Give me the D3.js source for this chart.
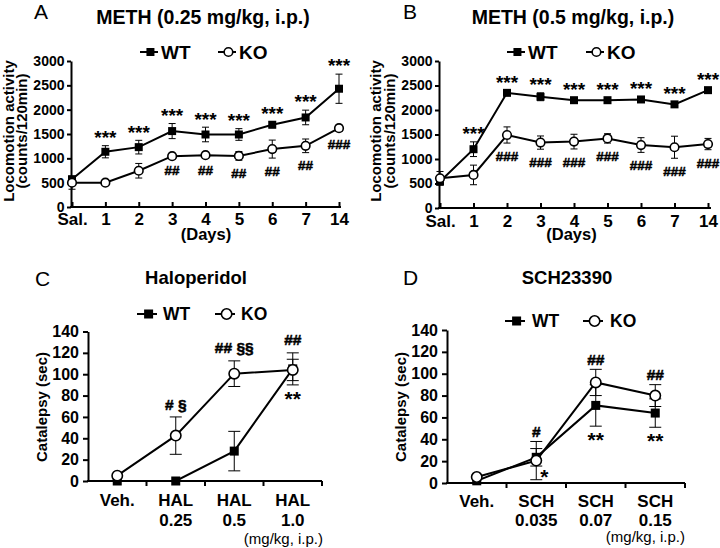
<!DOCTYPE html>
<html><head><meta charset="utf-8">
<script src="https://cdn.jsdelivr.net/npm/d3@7"></script>
<style>
body{margin:0;background:#fff;}
svg{display:block;}
</style></head><body>
<svg id="chart" width="720" height="548"></svg>
<script>
// ---------------- DATA ----------------
const dayLabels = ["Sal.","1","2","3","4","5","6","7","14"];
const locoTicks = [0,500,1000,1500,2000,2500,3000];

const meth025WT    = [570,1135,1230,1560,1490,1490,1690,1840,2430];
const meth025WTErr = [40,125,140,155,150,120,60,150,300];
const meth025KO    = [500,500,745,1045,1065,1050,1190,1257,1620];
const meth025KOErr = [135,20,150,30,40,90,185,140,60];
const meth025Above = ["","***","***","***","***","***","***","***","***"];
const meth025Below = ["","","","##","##","##","##","##","###"];

const meth05WT    = [540,1200,2350,2270,2200,2200,2215,2115,2405];
const meth05WTErr = [60,150,40,80,50,50,50,50,50];
const meth05KO    = [605,675,1490,1335,1355,1420,1285,1240,1305];
const meth05KOErr = [140,200,165,135,150,95,150,225,115];
const meth05Above = ["","***","***","***","***","***","***","***","***"];
const meth05Below = ["","","###","###","###","###","###","###","###"];

const cataTicks = [0,20,40,60,80,100,120,140];

const halLabels = ["Veh.","HAL\n0.25","HAL\n0.5","HAL\n1.0"];
const halWT    = [0,0,28,105];
const halWTErr = [0,0,18.5,15];
const halKO    = [5,42.5,100.5,104];
const halKOErr = [0,17.5,12,10];
const halAbove = ["","# §","## §§","##"];
const halBelow = ["","","","**"];

const schLabels = ["Veh.","SCH\n0.035","SCH\n0.07","SCH\n0.15"];
const schWT    = [2,23.5,71,64];
const schWTErr = [0,8,19,13];
const schKO    = [5.5,20.5,92,80];
const schKOErr = [0,17.5,12,10];
const schAbove = ["","#","##","##"];
const schBelow = ["","*","**","**"];

// ---------------- DRAWING ----------------
const FONT = '"Liberation Sans", Arial, Helvetica, sans-serif';
const svg = d3.select('#chart').attr('font-family', FONT);

function panel(cfg) {
  const g = svg.append('g');
  let x, cx;
  if (cfg.band) {
    x = d3.scaleBand().domain(cfg.cats).range(cfg.xr).padding(0);
    cx = d => x(d) + x.bandwidth() / 2;
  } else {
    x = d3.scalePoint().domain(cfg.cats).range(cfg.xr).padding(0);
    cx = d => x(d);
  }
  const y = d3.scaleLinear().domain([0, cfg.yMax]).range(cfg.yr);
  const y0 = cfg.yr[0];

  // letter + title
  g.append('text').attr('x', cfg.letter[0]).attr('y', cfg.letter[1])
    .attr('font-size', 21).text(cfg.letterText);
  g.append('text').attr('x', cfg.title[0]).attr('y', cfg.title[1])
    .attr('text-anchor', 'middle').attr('font-size', cfg.titleSize)
    .attr('font-weight', 'bold').text(cfg.titleText);

  // y axis
  const ya = g.append('g').attr('transform', `translate(${cfg.axisX},0)`)
    .call(d3.axisLeft(y).tickValues(cfg.yTicks).tickSize(cfg.yTick)
      .tickSizeOuter(0).tickPadding(cfg.yPad).tickFormat(d3.format('d')));
  ya.attr('font-family', FONT);
  ya.select('.domain').attr('stroke-width', 2);
  ya.selectAll('.tick line').attr('stroke-width', 2);
  ya.selectAll('.tick text').attr('font-size', cfg.yFont)
    .attr('font-weight', 'bold').attr('fill', '#000');

  // x axis
  const xa = g.append('g').attr('transform', `translate(0,${y0})`)
    .call(d3.axisBottom(x).tickSizeInner(cfg.band ? 0 : -5).tickSizeOuter(0).tickPadding(0));
  xa.attr('font-family', FONT);
  xa.select('.domain').remove();
  xa.selectAll('.tick line').attr('stroke-width', 2);
  xa.append('line').attr('x1', cfg.axisX - 1).attr('x2', cfg.xEnd)
    .attr('stroke', '#000').attr('stroke-width', 2);
  if (cfg.band) {
    xa.selectAll('.bound').data(cfg.cats).enter().append('line')
      .attr('x1', d => x(d) + x.bandwidth()).attr('x2', d => x(d) + x.bandwidth())
      .attr('y1', 0).attr('y2', 5).attr('stroke', '#000').attr('stroke-width', 2);
  }
  xa.selectAll('.tick text').each(function (d) {
    const t = d3.select(this);
    const lines = d.split('\n');
    t.text(null).attr('y', null).attr('dy', null)
      .attr('font-size', cfg.xFont).attr('font-weight', 'bold').attr('fill', '#000');
    lines.forEach((l, i) => t.append('tspan').attr('x', 0)
      .attr('y', cfg.xBase + i * cfg.xGap).text(l));
  });

  // axis titles
  cfg.yLabels.forEach(l => {
    g.append('text').attr('transform', `translate(${l.x},${l.y}) rotate(-90)`)
      .attr('text-anchor', 'middle').attr('font-size', cfg.yLabelSize)
      .attr('font-weight', 'bold').text(l.text);
  });
  if (cfg.xTitle) {
    g.append('text').attr('x', cfg.xTitle.x).attr('y', cfg.xTitle.y)
      .attr('text-anchor', cfg.xTitle.anchor).attr('font-size', cfg.xTitle.size)
      .attr('font-weight', cfg.xTitle.weight).text(cfg.xTitle.text);
  }

  // series
  const series = [
    { v: cfg.wt, e: cfg.wtErr, shape: 'square' },
    { v: cfg.ko, e: cfg.koErr, shape: 'circle' }
  ];
  const line = d3.line().x((d, i) => cx(cfg.cats[i])).y(d => y(d));
  series.forEach(s => {
    g.append('path').datum(s.v).attr('d', line).attr('fill', 'none')
      .attr('stroke', '#000').attr('stroke-width', 2);
  });
  series.forEach(s => {
    s.v.forEach((v, i) => {
      if (!s.e[i]) return;
      const px = cx(cfg.cats[i]), t = y(v + s.e[i]), b = y(v - s.e[i]);
      const eg = g.append('g').attr('stroke', '#000').attr('stroke-width', 1);
      eg.append('line').attr('x1', px).attr('x2', px).attr('y1', t).attr('y2', b);
      eg.append('line').attr('x1', px - cfg.cap).attr('x2', px + cfg.cap).attr('y1', t).attr('y2', t);
      eg.append('line').attr('x1', px - cfg.cap).attr('x2', px + cfg.cap).attr('y1', b).attr('y2', b);
    });
  });
  function marker(sel, shape, px, py) {
    if (shape === 'square') {
      sel.append('rect').attr('x', px - cfg.sq / 2).attr('y', py - cfg.sq / 2)
        .attr('width', cfg.sq).attr('height', cfg.sq).attr('fill', '#000');
    } else {
      sel.append('circle').attr('cx', px).attr('cy', py).attr('r', cfg.r)
        .attr('fill', '#fff').attr('stroke', '#000').attr('stroke-width', 1.6);
    }
  }
  series.forEach(s => {
    s.v.forEach((v, i) => marker(g, s.shape, cx(cfg.cats[i]), y(v)));
  });

  // significance marks
  function mark(txt, px, py) {
    if (!txt) return;
    const stars = /^\*+$/.test(txt);
    g.append('text').attr('x', px).attr('y', py)
      .attr('dy', stars ? '0.57em' : '0.36em')
      .attr('text-anchor', 'middle')
      .attr('font-size', stars ? cfg.starSize : cfg.hashSize)
      .attr('font-weight', 'bold')
      .attr('stroke', stars ? null : '#000')
      .attr('stroke-width', stars ? null : 0.5)
      .text(txt);
  }
  cfg.cats.forEach((c, i) => {
    const top = d3.max(series, s => s.v[i] + s.e[i]);
    const bot = d3.min(series, s => s.v[i] - s.e[i]);
    mark(cfg.above[i], cx(c), y(top) - cfg.gapA);
    if (cfg.sideBelow && cfg.sideBelow.index === i) {
      mark(cfg.below[i], cx(c) + cfg.sideBelow.dx, y(cfg.wt[i]) + cfg.sideBelow.dy);
    } else {
      mark(cfg.below[i], cx(c), y(bot) + cfg.gapB);
    }
  });

  // legend
  const L = cfg.legend;
  [[L.wtX, 'square', 'WT'], [L.koX, 'circle', 'KO']].forEach(([lx, shape, name]) => {
    g.append('line').attr('x1', lx).attr('x2', lx + L.len).attr('y1', L.y).attr('y2', L.y)
      .attr('stroke', '#000').attr('stroke-width', 2);
    marker(g, shape, lx + L.len * 0.58, L.y);
    g.append('text').attr('x', lx + L.textOff).attr('y', L.y).attr('dy', '0.36em')
      .attr('font-size', L.size).attr('font-weight', 'bold').text(name);
  });
}

panel({
  letterText: 'A', letter: [34, 19], titleText: 'METH (0.25 mg/kg, i.p.)', title: [203, 24], titleSize: 19.5,
  cats: dayLabels, band: false, xr: [72, 339], xEnd: 341, axisX: 71,
  yMax: 3000, yr: [207, 61], yTicks: locoTicks, yTick: 4, yPad: 2.5, yFont: 14,
  xFont: 17, xBase: 18, xGap: 0,
  yLabels: [{ text: 'Locomotion activity', x: 13.5, y: 131 }, { text: '(counts/120min)', x: 27, y: 131 }],
  yLabelSize: 15,
  xTitle: { text: '(Days)', x: 206, y: 240, anchor: 'middle', size: 16.5, weight: 'bold' },
  wt: meth025WT, wtErr: meth025WTErr, ko: meth025KO, koErr: meth025KOErr,
  above: meth025Above, below: meth025Below,
  cap: 3.5, sq: 8, r: 4.3, starSize: 19, hashSize: 13.5, gapA: 12.5, gapB: 13,
  legend: { wtX: 140, koX: 218, y: 52, len: 18, textOff: 21, size: 19 }
});

panel({
  letterText: 'B', letter: [403, 19], titleText: 'METH (0.5 mg/kg, i.p.)', title: [573, 24], titleSize: 19.5,
  cats: dayLabels, band: false, xr: [440, 708], xEnd: 711, axisX: 439,
  yMax: 3000, yr: [208, 61], yTicks: locoTicks, yTick: 4, yPad: 2.5, yFont: 14,
  xFont: 17, xBase: 19, xGap: 0,
  yLabels: [{ text: 'Locomotion activity', x: 380.5, y: 131 }, { text: '(counts/120min)', x: 395, y: 131 }],
  yLabelSize: 15,
  xTitle: { text: '(Days)', x: 571.5, y: 240, anchor: 'middle', size: 16.5, weight: 'bold' },
  wt: meth05WT, wtErr: meth05WTErr, ko: meth05KO, koErr: meth05KOErr,
  above: meth05Above, below: meth05Below,
  cap: 3.5, sq: 8, r: 4.3, starSize: 19, hashSize: 13.5, gapA: 12.5, gapB: 13,
  legend: { wtX: 507, koX: 586, y: 52, len: 18, textOff: 21, size: 19 }
});

panel({
  letterText: 'C', letter: [35, 286], titleText: 'Haloperidol', title: [196, 284], titleSize: 18.5,
  cats: halLabels, band: true, xr: [88, 322], xEnd: 322, axisX: 88,
  yMax: 140, yr: [481, 331.5], yTicks: cataTicks, yTick: 5, yPad: 4, yFont: 16,
  xFont: 17, xBase: 25, xGap: 20,
  yLabels: [{ text: 'Catalepsy (sec)', x: 47, y: 407 }],
  yLabelSize: 15,
  xTitle: { text: '(mg/kg, i.p.)', x: 323, y: 544, anchor: 'end', size: 15, weight: 'normal' },
  wt: halWT, wtErr: halWTErr, ko: halKO, koErr: halKOErr,
  above: halAbove, below: halBelow,
  cap: 6, sq: 9, r: 5.2, starSize: 21, hashSize: 15.5, gapA: 13, gapB: 9,
  legend: { wtX: 137, koX: 215, y: 314, len: 20, textOff: 26, size: 17.5 }
});

panel({
  letterText: 'D', letter: [403, 285], titleText: 'SCH23390', title: [567, 284], titleSize: 18.5,
  cats: schLabels, band: true, xr: [447, 685], xEnd: 685, axisX: 447,
  yMax: 140, yr: [483, 330], yTicks: cataTicks, yTick: 5, yPad: 4, yFont: 16,
  xFont: 17, xBase: 24, xGap: 19,
  yLabels: [{ text: 'Catalepsy (sec)', x: 406, y: 407 }],
  yLabelSize: 15,
  xTitle: { text: '(mg/kg, i.p.)', x: 685, y: 542, anchor: 'end', size: 15, weight: 'normal' },
  wt: schWT, wtErr: schWTErr, ko: schKO, koErr: schKOErr,
  above: schAbove, below: schBelow,
  sideBelow: { index: 1, dx: 8, dy: 15 },
  cap: 6, sq: 9, r: 5.2, starSize: 21, hashSize: 15.5, gapA: 10, gapB: 9,
  legend: { wtX: 505, koX: 583, y: 321, len: 20, textOff: 27, size: 17.5 }
});
</script>
</body></html>
